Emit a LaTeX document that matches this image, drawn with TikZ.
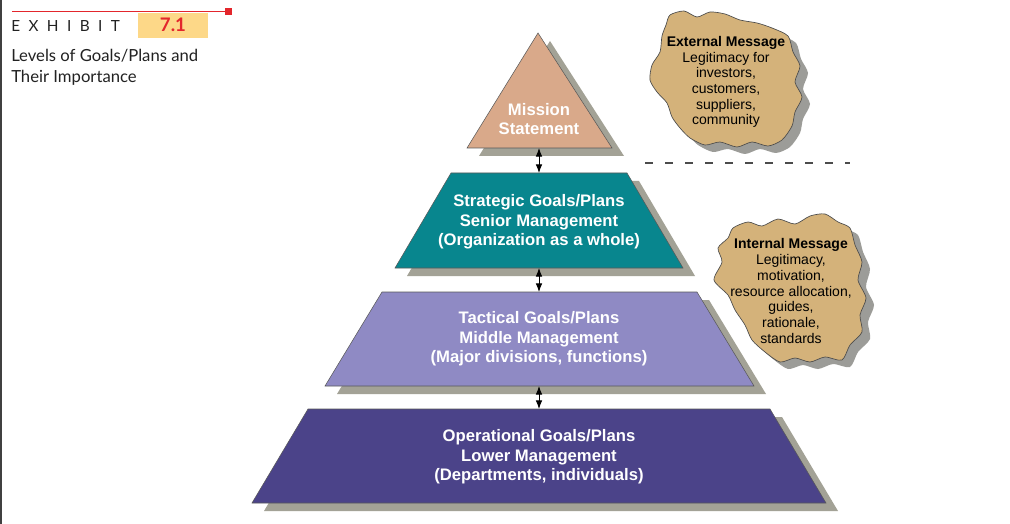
\documentclass[tikz,border=0pt]{standalone}
\usepackage{fontspec}
\setmainfont{Liberation Sans}
\newfontfamily\headfont{Lato}
\newfontfamily\exhfont[LetterSpace=55]{Lato}
\usetikzlibrary{arrows.meta}
\definecolor{triC}{HTML}{D9A98A}
\definecolor{stratC}{HTML}{08868E}
\definecolor{tactC}{HTML}{8F8AC4}
\definecolor{operC}{HTML}{4B4389}
\definecolor{shadC}{HTML}{A3A296}
\definecolor{blobC}{HTML}{D4B27A}
\definecolor{blobShad}{HTML}{9C9C98}
\definecolor{yelC}{HTML}{FDD888}
\definecolor{redC}{HTML}{E3262C}
\definecolor{inkC}{HTML}{222222}
\begin{document}
\begin{tikzpicture}[x=0.75pt,y=-0.75pt,
  shad/.style={fill=shadC},
  lvlshape/.style={draw=black!65, line width=0.4pt},
  lvl/.style={text=white, font=\bfseries\fontsize{12.5}{14.6}\selectfont, align=center, inner sep=0pt},
  msg/.style={text=black, font=\fontsize{10.5}{11.8}\selectfont, align=center, inner sep=0pt},
  blob/.style={fill=blobC, draw=black!70, line width=0.5pt},
  blobsh/.style={fill=blobShad},
  biarrow/.style={{Latex[length=6.5pt,width=5pt]}-{Latex[length=6.5pt,width=5pt]}, line width=0.7pt, black}
]
\useasboundingbox (0,0) rectangle (1010,524);
\fill[white] (0,0) rectangle (1010,524);
\draw[black!75, line width=1.2pt] (0.8,0) -- (0.8,524);

% header
\draw[redC, line width=1.1pt] (12,11.5) -- (229,11.5);
\fill[redC] (225,8.5) rectangle (232,15);
\fill[yelC] (138,13) rectangle (208,38);
\node[text=redC, font=\headfont\bfseries\fontsize{14}{16}\selectfont, inner sep=0pt] (num) at (173,25) {7.1};
\node[text=inkC, font=\exhfont\fontsize{11.5}{13}\selectfont, anchor=west, inner sep=0pt] (exh) at (11,26) {EXHIBIT};
\node[text=inkC, font=\headfont\fontsize{12.5}{15.75}\selectfont, anchor=north west, align=left, inner sep=0pt] (title) at (11,49) {Levels of Goals/Plans and\\Their Importance};

% external blob
\begin{scope}[shift={(8,7)}]
\fill[blobsh] plot[smooth cycle, tension=0.45] coordinates {(670,15) (684,11) (697,17) (710,12) (725,14) (740,20) (757,23) (772,28) (788,36) (793,52) (800,66) (795,82) (802,97) (795,112) (792,126) (782,140) (768,146) (752,142) (737,147) (720,142) (705,145) (690,138) (680,128) (672,117) (667,103) (657,92) (650,80) (652,65) (660,52) (662,36) (666,25)};
\end{scope}
\path[blob] plot[smooth cycle, tension=0.45] coordinates {(670,15) (684,11) (697,17) (710,12) (725,14) (740,20) (757,23) (772,28) (788,36) (793,52) (800,66) (795,82) (802,97) (795,112) (792,126) (782,140) (768,146) (752,142) (737,147) (720,142) (705,145) (690,138) (680,128) (672,117) (667,103) (657,92) (650,80) (652,65) (660,52) (662,36) (666,25)};
\node[msg] (ext) at (726,82) {\textbf{External Message}\\Legitimacy for\\investors,\\customers,\\suppliers,\\community};

% internal blob
\begin{scope}[shift={(8,7)}]
\fill[blobsh] plot[smooth cycle, tension=0.45] coordinates {(733,228) (748,222) (762,226) (778,219) (795,224) (810,216) (825,214) (838,222) (850,228) (855,245) (862,262) (858,280) (866,298) (860,315) (862,332) (850,345) (842,360) (825,357) (810,362) (795,358) (780,362) (765,352) (752,340) (745,325) (735,310) (728,295) (714,280) (722,262) (718,248) (728,238)};
\end{scope}
\path[blob] plot[smooth cycle, tension=0.45] coordinates {(733,228) (748,222) (762,226) (778,219) (795,224) (810,216) (825,214) (838,222) (850,228) (855,245) (862,262) (858,280) (866,298) (860,315) (862,332) (850,345) (842,360) (825,357) (810,362) (795,358) (780,362) (765,352) (752,340) (745,325) (735,310) (728,295) (714,280) (722,262) (718,248) (728,238)};
\node[msg] (int) at (791,291) {\textbf{Internal Message}\\Legitimacy,\\motivation,\\resource allocation,\\guides,\\rationale,\\standards};

% dashed separator
\coordinate (d1) at (645,163);
\coordinate (d2) at (850,163);
\draw[black!70, line width=0.8pt, dash pattern=on 6pt off 9pt] (d1) -- (d2);

% shadows
\begin{scope}[shift={(12,8)}]
\fill[shad] (538,33) -- (612,148) -- (467,148) -- cycle;
\fill[shad] (451,173) -- (627,173) -- (683,268) -- (395,268) -- cycle;
\fill[shad] (382,292) -- (697,292) -- (754,386) -- (325,386) -- cycle;
\fill[shad] (308,409) -- (770,409) -- (826,503) -- (252,503) -- cycle;
\end{scope}

% levels
\path[lvlshape, fill=triC] (538,33) -- (612,148) -- (467,148) -- cycle;
\path[lvlshape, fill=stratC] (451,173) -- (627,173) -- (683,268) -- (395,268) -- cycle;
\path[lvlshape, fill=tactC] (382,292) -- (697,292) -- (754,386) -- (325,386) -- cycle;
\path[lvlshape, fill=operC] (308,409) -- (770,409) -- (826,503) -- (252,503) -- cycle;

\node[lvl] (mission) at (539,119) {Mission\\Statement};
\node[lvl] (strat) at (539,222) {Strategic Goals/Plans\\Senior Management\\(Organization as a whole)};
\node[lvl] (tact) at (539,339) {Tactical Goals/Plans\\Middle Management\\(Major divisions, functions)};
\node[lvl] (oper) at (539,457) {Operational Goals/Plans\\Lower Management\\(Departments, individuals)};

% connectors
\coordinate (mb) at (539,148);
\coordinate (st) at (539,173);
\coordinate (sb) at (539,268);
\coordinate (tt) at (539,292);
\coordinate (tb) at (539,386);
\coordinate (ot) at (539,409);
\draw[biarrow] (mb) -- (st);
\draw[biarrow] (sb) -- (tt);
\draw[biarrow] (tb) -- (ot);
\end{tikzpicture}
\end{document}
